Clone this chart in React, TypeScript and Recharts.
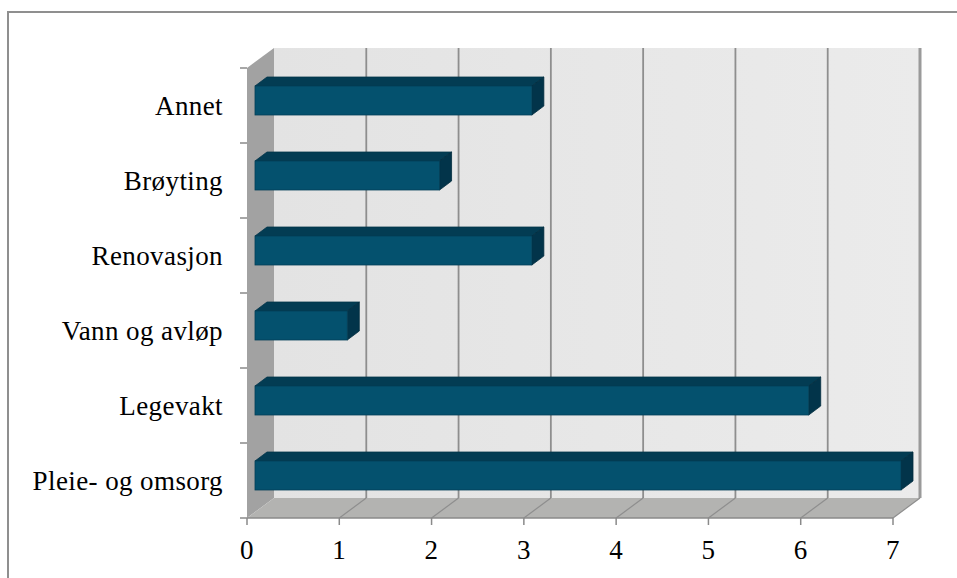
import React from "react";
import { BarChart, Bar, XAxis, YAxis, ReferenceArea, ReferenceLine } from "recharts";

const categories = ["Annet", "Brøyting", "Renovasjon", "Vann og avløp", "Legevakt", "Pleie- og omsorg"];
const counts = [3, 2, 3, 1, 6, 7];
const xTicks = [0, 1, 2, 3, 4, 5, 6, 7];

const data = categories.map((name, i) => ({ name, value: counts[i] }));

// depth of the pseudo-3D box (walls and floor)
const DX = 27;
const DY = 20;
// bars sit a little way into the box and have their own depth
const BAR_OX = 8;
const BAR_OY = -5;
const BAR_DX = 12;
const BAR_DY = 9;

const FONT = { fill: "#000", fontSize: 27, fontFamily: "Liberation Serif", letterSpacing: 0.4 };

// back wall, left wall, floor and the category boundary ticks
function Walls(props: any) {
  const { x, y, width, height } = props;
  const bottom = y + height;
  const right = x + width;
  const band = height / categories.length;
  const bounds = Array.from({ length: categories.length + 1 }, (_, i) => y + i * band);
  return (
    <g>
      <defs>
        <linearGradient id="backWall" x1="0" y1="0" x2="1" y2="0">
          <stop offset="0%" stopColor="#e3e3e3" />
          <stop offset="100%" stopColor="#ebebeb" />
        </linearGradient>
      </defs>
      <rect x={x + DX} y={y - DY} width={width} height={height} fill="url(#backWall)" />
      <polygon
        points={`${x},${y} ${x + DX},${y - DY} ${x + DX},${bottom - DY} ${x},${bottom}`}
        fill="#a2a2a2"
      />
      <polygon
        points={`${x},${bottom} ${x + DX},${bottom - DY} ${right + DX},${bottom - DY} ${right},${bottom}`}
        fill="#b3b3b1"
      />
      {bounds.map((by, i) => (
        <line key={i} x1={x - 7} y1={by} x2={x} y2={by} stroke="#8a8a8a" strokeWidth={1.5} />
      ))}
    </g>
  );
}

// gridline on the back wall plus its slanted continuation across the floor
function GridLine3D(props: any) {
  const { x1, y1, y2 } = props;
  const top = Math.min(y1, y2);
  const bottom = Math.max(y1, y2);
  const last = props.last;
  return (
    <g>
      <line
        x1={x1 + DX}
        y1={top - DY}
        x2={x1 + DX}
        y2={bottom - DY}
        stroke={last ? "#9a9a9a" : "#8e8e8e"}
        strokeWidth={last ? 3 : 1.8}
      />
      <line x1={x1} y1={bottom} x2={x1 + DX} y2={bottom - DY} stroke="#8e8e8e" strokeWidth={1.2} />
    </g>
  );
}

function Bar3D(props: any) {
  const { x, y, width, height } = props;
  if (!width) return null;
  const fx = x + BAR_OX;
  const fy = y + BAR_OY;
  const rx = fx + width;
  const by = fy + height;
  return (
    <g>
      <polygon
        points={`${fx},${fy} ${fx + BAR_DX},${fy - BAR_DY} ${rx + BAR_DX},${fy - BAR_DY} ${rx},${fy}`}
        fill="#033c53"
        stroke="#02354a"
        strokeWidth={0.8}
      />
      <polygon
        points={`${rx},${fy} ${rx + BAR_DX},${fy - BAR_DY} ${rx + BAR_DX},${by - BAR_DY} ${rx},${by}`}
        fill="#02344a"
        stroke="#022c3e"
        strokeWidth={0.8}
      />
      <rect x={fx} y={fy} width={width} height={height} fill="#04516e" stroke="#033f57" strokeWidth={0.8} />
    </g>
  );
}

export default function App() {
  return (
    <div style={{ position: "fixed", left: 0, top: 0, width: 957, height: 578, overflow: "hidden", background: "#fff" }}>
      <div
        style={{
          position: "absolute",
          left: 7,
          top: 11,
          width: 1000,
          height: 620,
          border: "2px solid #8f8f8f",
        }}
      />
      <div style={{ position: "absolute", left: 0, top: 0 }}>
        <BarChart
          width={957}
          height={578}
          data={data}
          layout="vertical"
          margin={{ top: 68, right: 64, bottom: 0, left: 0 }}
        >
          <ReferenceArea x1={0} x2={7} shape={Walls} zIndex={-100} fillOpacity={1} />
          {xTicks.slice(1).map((t) => (
            <ReferenceLine
              key={t}
              x={t}
              zIndex={-90}
              shape={(p: any) => <GridLine3D {...p} last={t === xTicks[xTicks.length - 1]} />}
            />
          ))}
          <XAxis
            type="number"
            domain={[0, 7]}
            ticks={xTicks}
            height={60}
            axisLine={{ stroke: "#8a8a8a", strokeWidth: 1.5 }}
            tickLine={{ stroke: "#8a8a8a", strokeWidth: 1.5 }}
            tickSize={7}
            tickMargin={15}
            tick={FONT}
          />
          <YAxis
            type="category"
            dataKey="name"
            width={247}
            axisLine={false}
            tickLine={false}
            tickSize={6}
            tickMargin={18}
            tick={FONT}
            interval={0}
          />
          <Bar dataKey="value" barSize={29} shape={Bar3D} isAnimationActive={false} />
        </BarChart>
      </div>
    </div>
  );
}
